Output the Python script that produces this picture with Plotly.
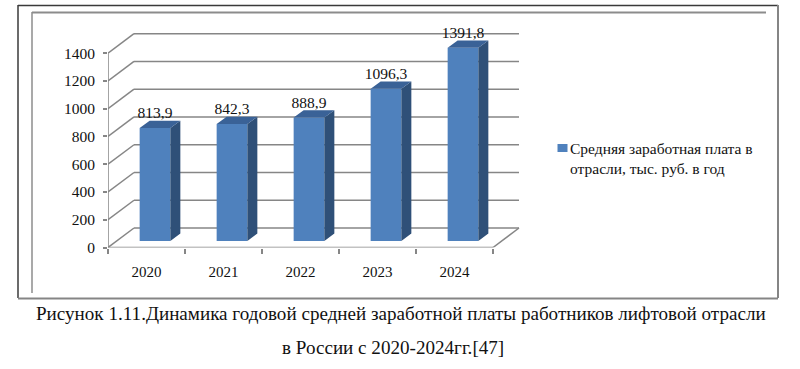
import plotly.graph_objects as go

years = ["2020", "2021", "2022", "2023", "2024"]
salaries = [813.9, 842.3, 888.9, 1096.3, 1391.8]
y_ticks = [0, 200, 400, 600, 800, 1000, 1200, 1400]
series_name = "Средняя заработная плата в<br>отрасли, тыс. руб. в год"
caption_1 = "Рисунок 1.11.Динамика годовой средней заработной платы работников лифтовой отрасли"
caption_2 = "в России с 2020-2024гг.[47]"

W, H = 800, 369
FONT = "Liberation Serif"
FRONT, SIDE, TOP = "#4F81BD", "#2F5078", "#3A6297"
GRID = "#868686"
INK = "#111111"
DARK, GREY = "#3A3A3A", "#858585"

def fx(px):
    return px / W
def fy(py):
    return 1 - py / H

# plot area in pixels, 0 at the front floor edge
PX_L, PX_R, PX_B, PX_T = 108, 520, 247.5, 33
UNIT_X = 77.0            # px per category
UNIT_Y = 194.3 / 1400    # px per value unit
WALL_X, WALL_Y = 26 / UNIT_X, 19.5 / UNIT_Y   # depth of the 3D box
BAR_W = 30.7 / UNIT_X
BAR_DX, BAR_DY = 8.5 / UNIT_X, 6.6 / UNIT_Y   # bar's front plane inside the box
SIDE_X, SIDE_Y = 10 / UNIT_X, 7.3 / UNIT_Y    # bar's own depth
LABEL_DROP = 1.5 / UNIT_Y

xs = list(range(len(years)))
x0, x1 = -0.5, len(years) - 0.5
fig = go.Figure()

# front faces
fig.add_bar(x=[x + BAR_DX for x in xs], y=salaries, base=[BAR_DY] * len(xs), width=BAR_W,
            marker=dict(color=FRONT, line_width=0), name=series_name, showlegend=False)

side_x, side_y, top_x, top_y = [], [], [], []
for x, v in zip(xs, salaries):
    l, r = x + BAR_DX - BAR_W / 2, x + BAR_DX + BAR_W / 2
    b, t = BAR_DY, BAR_DY + v
    side_x += [r, r + SIDE_X, r + SIDE_X, r, r, None]
    side_y += [b, b + SIDE_Y, t + SIDE_Y, t, b, None]
    top_x += [l, l + SIDE_X, r + SIDE_X, r, l, None]
    top_y += [t, t + SIDE_Y, t + SIDE_Y, t, t, None]
for px, py, c in ((side_x, side_y, SIDE), (top_x, top_y, TOP)):
    fig.add_scatter(x=px, y=py, mode="lines", fill="toself", fillcolor=c, line=dict(width=0),
                    showlegend=False, hoverinfo="skip")

fig.add_scatter(x=[x + BAR_DX for x in xs], y=[BAR_DY + v + SIDE_Y - LABEL_DROP for v in salaries],
                mode="text", text=[f"{v:.1f}".replace(".", ",") for v in salaries],
                textposition="top center", textfont=dict(family=FONT, size=15.5, color=INK),
                showlegend=False, hoverinfo="skip", cliponaxis=False)

# 3D box lines, below the bars
line = dict(color=GRID, width=1.5)
def box_line(a, b, c, d):
    return dict(type="line", xref="x", yref="y", layer="below", line=line, x0=a, y0=b, x1=c, y1=d)
shapes = []
for v in y_ticks:
    shapes.append(box_line(x0, v, x0 + WALL_X, v + WALL_Y))
    shapes.append(box_line(x0 + WALL_X, v + WALL_Y, x1 + WALL_X, v + WALL_Y))
shapes += [
    box_line(x1, 0, x1 + WALL_X, WALL_Y),
    box_line(x0, 0, x1, 0),
    box_line(x0, 0, x0, y_ticks[-1]),
]

# frames and legend swatch
def pline(a, b, c, d, col, w):
    return dict(type="line", xref="paper", yref="paper", x0=fx(a), x1=fx(c),
                y0=fy(b), y1=fy(d), line=dict(color=col, width=w), layer="below")
shapes += [
    pline(18, 5.5, 778, 5.5, DARK, 1.5),
    pline(18, 5, 18, 298, DARK, 1.5),
    pline(18, 298.5, 778, 298.5, GREY, 2),
    pline(778, 5, 778, 298, GREY, 2),
    pline(32, 12.5, 766, 12.5, "#8C8C8C", 2),
    pline(32, 12, 32, 293, "#8C8C8C", 1.5),
    dict(type="rect", xref="paper", yref="paper", x0=fx(557.5), x1=fx(567.5), y0=fy(152), y1=fy(144),
         fillcolor=FRONT, line_width=0),
]

fig.update_layout(
    width=W, height=H, margin=dict(l=0, r=0, t=0, b=0, autoexpand=False),
    paper_bgcolor="white", plot_bgcolor="rgba(0,0,0,0)", shapes=shapes, showlegend=False,
    xaxis=dict(domain=[fx(PX_L), fx(PX_R)], range=[x0, x0 + (PX_R - PX_L) / UNIT_X],
               tickmode="array", tickvals=xs, ticktext=years, ticks="", showgrid=False,
               zeroline=False, showline=False, tickfont=dict(family=FONT, size=15, color=INK),
               ticklabelstandoff=13,
               minor=dict(tickmode="array", tickvals=[x - 0.5 for x in xs] + [x1], ticks="outside",
                          ticklen=5, tickcolor=GRID, tickwidth=1.5, showgrid=False)),
    yaxis=dict(domain=[fy(PX_B), fy(PX_T)], range=[0, (PX_B - PX_T) / UNIT_Y],
               tickmode="array", tickvals=y_ticks, ticks="outside", ticklen=4, tickcolor=GRID,
               tickwidth=1.5, showgrid=False, zeroline=False, showline=False,
               tickfont=dict(family=FONT, size=15.5, color=INK), ticklabelstandoff=5),
    annotations=[
        dict(text=series_name, xref="paper", yref="paper", x=fx(568), y=fy(158.5), showarrow=False,
             align="left", font=dict(family=FONT, size=15.5, color=INK), xanchor="left", yanchor="middle"),
        dict(text=caption_1, xref="paper", yref="paper", x=fx(401.5), y=fy(313.5), showarrow=False,
             font=dict(family=FONT, size=19.1, color=INK), xanchor="center", yanchor="middle"),
        dict(text=caption_2, xref="paper", yref="paper", x=fx(393), y=fy(347), showarrow=False,
             font=dict(family=FONT, size=19.1, color=INK), xanchor="center", yanchor="middle"),
    ],
)
fig.write_html("out.html", config={"displayModeBar": False},
               post_script="document.body.style.margin='0';")
